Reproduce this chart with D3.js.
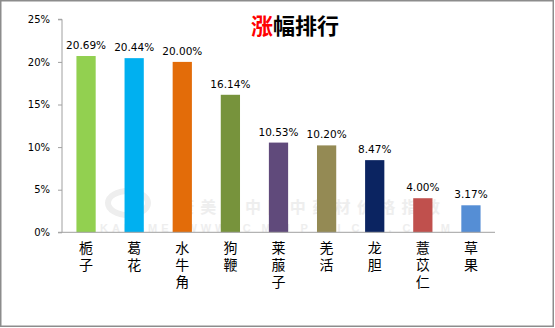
<!DOCTYPE html>
<html>
<head>
<meta charset="utf-8">
<script src="https://cdn.jsdelivr.net/npm/d3@7"></script>
<style>
  html, body { margin: 0; padding: 0; background: #fff; }
  svg { display: block; }
</style>
</head>
<body>
<svg id="chart" width="555" height="328"></svg>
<script>
// ---- data ----
const categories = ["栀子", "葛花", "水牛角", "狗鞭", "莱菔子", "羌活", "龙胆", "薏苡仁", "草果"];
const values = [20.69, 20.44, 20.00, 16.14, 10.53, 10.20, 8.47, 4.00, 3.17];
const valueLabels = ["20.69%", "20.44%", "20.00%", "16.14%", "10.53%", "10.20%", "8.47%", "4.00%", "3.17%"];
const barColors = ["#92D050", "#00B0F0", "#E36C09", "#77933C", "#604A7B", "#948A54", "#0B2461", "#C0504D", "#558ED5"];
const yTicks = [0, 5, 10, 15, 20, 25];
const yTickLabels = ["0%", "5%", "10%", "15%", "20%", "25%"];
const titleParts = [{ t: "涨", c: "#FF0000" }, { t: "幅排行", c: "#000000" }];

// ---- layout ----
const svg = d3.select("#chart");
const W = 555, H = 328;
const axisLeft = 62, axisRight = 495, yBottom = 232.3, yTop = 19.3;

const x = d3.scaleBand().domain(categories).range([axisLeft, axisRight]).paddingInner(0.6).paddingOuter(0.3);
const y = d3.scaleLinear().domain([0, 25]).range([yBottom, yTop]);

// outer frame
svg.append("rect").attr("x", 0.75).attr("y", 0.75).attr("width", W - 2.5).attr("height", H - 2.5)
  .attr("fill", "#fff").attr("stroke", "#8C8C8C").attr("stroke-width", 1.5);

// watermark
const wm = svg.append("g").attr("fill", "#EEEEEE").attr("font-weight", "bold");
wm.append("ellipse").attr("cx", 128).attr("cy", 203).attr("rx", 20).attr("ry", 12).attr("fill", "none")
  .attr("stroke", "#EEEEEE").attr("stroke-width", 6);
wm.append("text").attr("x", 178).attr("y", 206).attr("dominant-baseline", "central").attr("font-size", 16)
  .attr("font-family", "'Noto Sans CJK SC', sans-serif")
  .attr("textLength", 262).attr("lengthAdjust", "spacing").text("康美·中国中药材价格指数");
wm.append("text").attr("x", 100).attr("y", 228).attr("dominant-baseline", "central").attr("font-size", 11)
  .attr("font-family", "'Liberation Sans', Arial, sans-serif")
  .attr("textLength", 350).attr("lengthAdjust", "spacing").text("KANGMEI WWW. C M H P R I C E . C O M");

// title
const title = svg.append("text").attr("x", 295).attr("y", 24).attr("text-anchor", "middle")
  .attr("dominant-baseline", "central").attr("font-size", 22).attr("font-weight", "bold")
  .attr("font-family", "'Noto Sans CJK SC', sans-serif");
title.selectAll("tspan").data(titleParts).join("tspan").attr("fill", d => d.c).text(d => d.t);

// y axis
const yAxis = d3.axisLeft(y).tickValues(yTicks).tickFormat((d, i) => yTickLabels[i]).tickSize(4).tickPadding(8);
const gy = svg.append("g").attr("transform", `translate(${axisLeft},0)`).call(yAxis);
gy.select(".domain").attr("stroke", "#A0A0A0").attr("d", `M-4,${yTop}H0V${yBottom}`);
gy.selectAll(".tick line").attr("stroke", "#A0A0A0");
gy.selectAll(".tick text").attr("font-family", "'DejaVu Sans', sans-serif").attr("font-size", 10).attr("fill", "#000");

// bars
svg.append("g").selectAll("rect").data(values).join("rect")
  .attr("x", (d, i) => x(categories[i]))
  .attr("width", x.bandwidth())
  .attr("y", d => y(d))
  .attr("height", d => y(0) - y(d))
  .attr("fill", (d, i) => barColors[i]);

// x axis
const xAxis = d3.axisBottom(x).tickSize(0).tickFormat("");
const gx = svg.append("g").attr("transform", `translate(0,${yBottom})`).call(xAxis);
gx.select(".domain").attr("stroke", "#A0A0A0").attr("d", `M${axisLeft - 4},0H${axisRight}`);

// value labels
svg.append("g").selectAll("text").data(values).join("text")
  .attr("x", (d, i) => x(categories[i]) + x.bandwidth() / 2)
  .attr("y", d => y(d) - 7)
  .attr("text-anchor", "middle")
  .attr("font-family", "'DejaVu Sans', sans-serif").attr("font-size", 10.5).attr("fill", "#000")
  .text((d, i) => valueLabels[i]);

// category labels (vertical writing, one text element per category)
svg.append("g").selectAll("text").data(categories).join("text")
  .attr("x", c => x(c) + x.bandwidth() / 2)
  .attr("y", 240.5)
  .style("writing-mode", "vertical-rl")
  .style("text-orientation", "upright")
  .style("letter-spacing", "3px")
  .attr("font-family", "'Noto Sans CJK SC', sans-serif").attr("font-size", 14).attr("fill", "#000")
  .text(c => c);
</script>
</body>
</html>
